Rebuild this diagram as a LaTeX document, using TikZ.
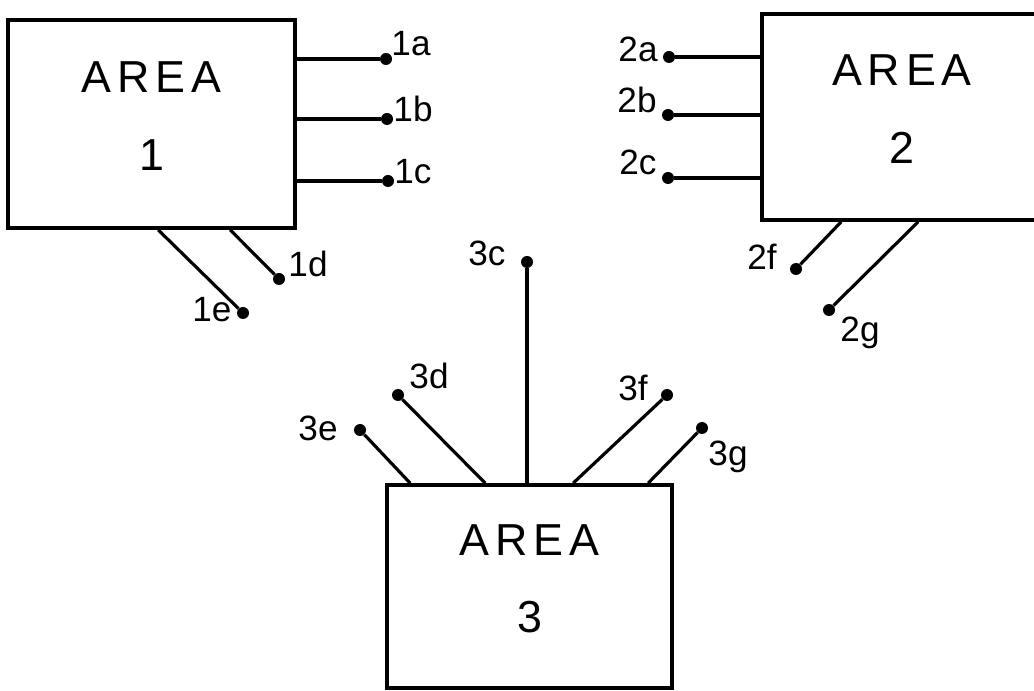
\documentclass[tikz,border=0pt]{standalone}
\usepackage{fontspec}
\setmainfont{Liberation Sans}
\newfontfamily\areafont[LetterSpace=13]{Liberation Sans}
\usetikzlibrary{positioning}

\begin{document}
\begin{tikzpicture}[x=1cm,y=1cm,
  areabox/.style={draw,line width=2.1pt,align=center,inner sep=0pt,text depth=9pt,
    font=\areafont\fontsize{25.5}{44}\selectfont},
  tdot/.style={circle,fill,inner sep=0pt,minimum size=0.24cm},
  tlbl/.style={inner sep=0pt,font=\fontsize{20}{22}\selectfont},
  wire/.style={line width=1.8pt}]
  \useasboundingbox (0,0) rectangle (20.68,13.8);

  % areas
  \node[areabox,minimum width=5.74cm,minimum height=4.16cm] (area1) at (3.03,11.32) {AREA\\1};
  \node[areabox,minimum width=5.6cm,minimum height=4.12cm] (area2) at (18.04,11.46) {AREA\\2};
  \node[areabox,minimum width=5.7cm,minimum height=4.06cm] (area3) at (10.59,2.07) {AREA\\3};

  % terminals of area 1
  \node[tdot] (d1a) at (7.72,12.62) {};
  \node[tdot] (d1b) at (7.74,11.42) {};
  \node[tdot] (d1c) at (7.76,10.18) {};
  \node[tdot] (d1d) at (5.58,8.22) {};
  \node[tdot] (d1e) at (4.86,7.54) {};
  \node[tlbl] (l1a) at ([shift={(0.50,0.30)}]d1a) {1a};
  \node[tlbl] (l1b) at ([shift={(0.52,0.20)}]d1b) {1b};
  \node[tlbl] (l1c) at ([shift={(0.50,0.18)}]d1c) {1c};
  \node[tlbl] (l1d) at ([shift={(0.58,0.30)}]d1d) {1d};
  \node[tlbl] (l1e) at ([shift={(-0.62,0.06)}]d1e) {1e};
  \draw[wire] (area1.east |- d1a) -- (d1a);
  \draw[wire] (area1.east |- d1b) -- (d1b);
  \draw[wire] (area1.east |- d1c) -- (d1c);
  \draw[wire] ([xshift=4.48cm]area1.south west) -- (d1d);
  \draw[wire] ([xshift=3.04cm]area1.south west) -- (d1e);

  % terminals of area 2
  \node[tdot] (d2a) at (13.38,12.66) {};
  \node[tdot] (d2b) at (13.36,11.50) {};
  \node[tdot] (d2c) at (13.36,10.24) {};
  \node[tdot] (d2f) at (15.92,8.42) {};
  \node[tdot] (d2g) at (16.58,7.60) {};
  \node[tlbl] (l2a) at ([shift={(-0.62,0.16)}]d2a) {2a};
  \node[tlbl] (l2b) at ([shift={(-0.62,0.30)}]d2b) {2b};
  \node[tlbl] (l2c) at ([shift={(-0.60,0.32)}]d2c) {2c};
  \node[tlbl] (l2f) at ([shift={(-0.68,0.24)}]d2f) {2f};
  \node[tlbl] (l2g) at ([shift={(0.62,-0.46)}]d2g) {2g};
  \draw[wire] (area2.west |- d2a) -- (d2a);
  \draw[wire] (area2.west |- d2b) -- (d2b);
  \draw[wire] (area2.west |- d2c) -- (d2c);
  \draw[wire] ([xshift=1.62cm]area2.south west) -- (d2f);
  \draw[wire] ([xshift=3.16cm]area2.south west) -- (d2g);

  % terminals of area 3
  \node[tdot] (d3c) at (10.54,8.56) {};
  \node[tdot] (d3d) at (7.96,5.90) {};
  \node[tdot] (d3e) at (7.20,5.20) {};
  \node[tdot] (d3f) at (13.34,5.90) {};
  \node[tdot] (d3g) at (14.04,5.24) {};
  \node[tlbl] (l3c) at ([shift={(-0.80,0.18)}]d3c) {3c};
  \node[tlbl] (l3d) at ([shift={(0.62,0.38)}]d3d) {3d};
  \node[tlbl] (l3e) at ([shift={(-0.84,0.04)}]d3e) {3e};
  \node[tlbl] (l3f) at ([shift={(-0.68,0.14)}]d3f) {3f};
  \node[tlbl] (l3g) at ([shift={(0.52,-0.58)}]d3g) {3g};
  \draw[wire] (area3.north -| d3c) -- (d3c);
  \draw[wire] ([xshift=2.00cm]area3.north west) -- (d3d);
  \draw[wire] ([xshift=0.50cm]area3.north west) -- (d3e);
  \draw[wire] ([xshift=3.76cm]area3.north west) -- (d3f);
  \draw[wire] ([xshift=5.26cm]area3.north west) -- (d3g);
\end{tikzpicture}
\end{document}
